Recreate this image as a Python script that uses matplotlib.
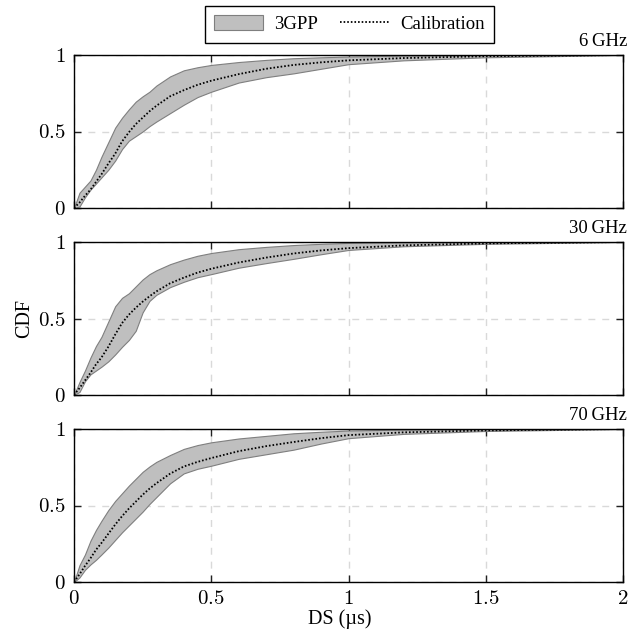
import matplotlib
matplotlib.use('Agg')
import matplotlib.pyplot as plt
from matplotlib.patches import Patch
from matplotlib.lines import Line2D
from matplotlib.ticker import FuncFormatter, MultipleLocator

# delay spread grid (us)
ds = [0, 0.02, 0.04, 0.06, 0.08, 0.1, 0.125, 0.15, 0.175, 0.2, 0.225, 0.25, 0.275,
      0.3, 0.35, 0.4, 0.45, 0.5, 0.6, 0.7, 0.8, 0.9, 1.0, 1.2, 1.5, 2.0]

bands = ['6\u2009GHz', '30\u2009GHz', '70\u2009GHz']

# 3GPP envelope (upper / lower CDF) per band
upper_6 = [0, 0.10, 0.14, 0.18, 0.25, 0.335, 0.43, 0.525, 0.59, 0.645, 0.695, 0.73, 0.76,
           0.80, 0.86, 0.90, 0.92, 0.935, 0.954, 0.968, 0.979, 0.985, 0.99, 0.996, 0.999, 1.0]
lower_6 = [0, 0.01, 0.07, 0.12, 0.16, 0.20, 0.25, 0.31, 0.385, 0.44, 0.47, 0.50, 0.535,
           0.565, 0.62, 0.675, 0.725, 0.76, 0.82, 0.855, 0.88, 0.91, 0.94, 0.965, 0.985, 1.0]
upper_30 = [0, 0.085, 0.16, 0.245, 0.32, 0.38, 0.48, 0.58, 0.635, 0.665, 0.71, 0.755, 0.79,
            0.815, 0.855, 0.885, 0.91, 0.928, 0.953, 0.968, 0.98, 0.988, 0.994, 0.998, 1.0, 1.0]
lower_30 = [0, 0.02, 0.09, 0.135, 0.16, 0.185, 0.22, 0.265, 0.315, 0.36, 0.42, 0.54, 0.615,
            0.655, 0.705, 0.74, 0.77, 0.79, 0.832, 0.862, 0.89, 0.92, 0.948, 0.972, 0.988, 1.0]
upper_70 = [0, 0.11, 0.18, 0.27, 0.34, 0.40, 0.47, 0.53, 0.58, 0.63, 0.675, 0.72, 0.755,
            0.785, 0.83, 0.87, 0.895, 0.913, 0.938, 0.955, 0.972, 0.982, 0.99, 0.996, 0.999, 1.0]
lower_70 = [0, 0.03, 0.08, 0.115, 0.145, 0.18, 0.225, 0.275, 0.325, 0.37, 0.415, 0.46, 0.51,
            0.555, 0.645, 0.71, 0.74, 0.76, 0.805, 0.835, 0.865, 0.905, 0.94, 0.968, 0.987, 1.0]

# calibrated model CDF per band
calib_6 = [0, 0.035, 0.08, 0.12, 0.17, 0.22, 0.29, 0.355, 0.435, 0.495, 0.548, 0.59, 0.632,
           0.668, 0.73, 0.77, 0.805, 0.832, 0.875, 0.91, 0.935, 0.952, 0.965, 0.98, 0.992, 1.0]
calib_30 = [0, 0.045, 0.095, 0.145, 0.20, 0.245, 0.315, 0.395, 0.47, 0.525, 0.57, 0.61, 0.645,
            0.677, 0.73, 0.767, 0.80, 0.825, 0.866, 0.898, 0.925, 0.945, 0.96, 0.978, 0.991, 1.0]
calib_70 = [0, 0.05, 0.105, 0.155, 0.21, 0.255, 0.315, 0.375, 0.43, 0.48, 0.525, 0.57, 0.61,
            0.645, 0.708, 0.755, 0.785, 0.81, 0.855, 0.888, 0.915, 0.94, 0.96, 0.978, 0.991, 1.0]

uppers = [upper_6, upper_30, upper_70]
lowers = [lower_6, lower_30, lower_70]
calibs = [calib_6, calib_30, calib_70]

plt.rcParams['font.family'] = ['Liberation Serif', 'DejaVu Serif']
plt.rcParams['mathtext.fontset'] = 'cm'

fill_col = '#bfbfbf'
edge_col = '#7f7f7f'
dots = (0, (0.9, 1.1))

W, H = 644, 639
fig = plt.figure(figsize=(W / 100, H / 100), dpi=100)

left = 74 / W
width = 549 / W
tops = [55, 242, 429]
ax_h = 153

fmt = FuncFormatter(lambda v, p: '$%g$' % v)

for i in range(3):
    ax = fig.add_axes([left, 1 - (tops[i] + ax_h) / H, width, ax_h / H])
    ax.fill_between(ds, lowers[i], uppers[i], facecolor=fill_col, edgecolor=edge_col,
                    linewidth=0.8, zorder=2)
    ax.plot(ds, calibs[i], color='black', linestyle=dots, linewidth=1.3, zorder=3)
    ax.set_xlim(0, 2)
    ax.set_ylim(0, 1)
    ax.xaxis.set_major_locator(MultipleLocator(0.5))
    ax.yaxis.set_major_locator(MultipleLocator(0.5))
    ax.yaxis.set_major_formatter(fmt)
    ax.xaxis.set_major_formatter(fmt)
    ax.grid(True, color='#d9d9d9', linestyle=(0, (5, 5)), linewidth=1.0, zorder=0)
    ax.set_axisbelow(True)
    ax.tick_params(direction='in', length=5, width=1, top=True, right=True,
                   labelsize=15, pad=6, color='#222222')
    for s in ax.spines.values():
        s.set_linewidth(1.0)
        s.set_color('black')
    if i < 2:
        ax.tick_params(labelbottom=False)
    ax.annotate(bands[i], xy=(1, 1), xycoords='axes fraction', xytext=(3, 6.5),
                textcoords='offset points', ha='right', va='baseline', fontsize=13.5)

fig.text(24.5 / W, 1 - 318.5 / H, 'CDF', rotation=90, ha='center', va='center', fontsize=14.5)
fig.text(339.5 / W, 1 - 624 / H, 'DS (µs)', ha='center', va='baseline', fontsize=14.5)

handles = [Patch(facecolor=fill_col, edgecolor=edge_col, linewidth=0.8),
           Line2D([], [], color='black', linestyle=dots, linewidth=1.3)]
leg = fig.legend(handles, ['3GPP', 'Calibration'], loc='center', ncol=2,
                 bbox_to_anchor=(349.5 / W, 1 - 24 / H), fontsize=13.5,
                 fancybox=False, edgecolor='black', framealpha=1,
                 handlelength=2.6, handleheight=0.9, columnspacing=1.2, handletextpad=0.6,
                 borderpad=0.5)
leg.get_frame().set_linewidth(1.0)

fig.savefig('out.png', dpi=100)
